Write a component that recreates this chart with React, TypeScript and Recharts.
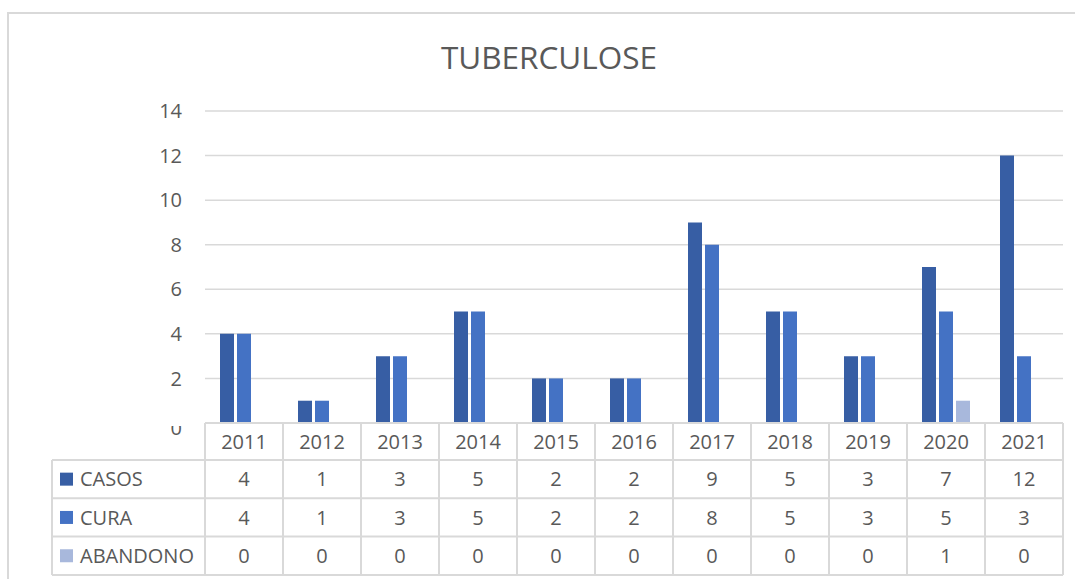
import React from 'react';
import { BarChart, Bar, XAxis, YAxis, CartesianGrid, Customized } from 'recharts';

const TITLE = 'TUBERCULOSE';
const YEARS = ['2011', '2012', '2013', '2014', '2015', '2016', '2017', '2018', '2019', '2020', '2021'];
const CASOS = [4, 1, 3, 5, 2, 2, 9, 5, 3, 7, 12];
const CURA = [4, 1, 3, 5, 2, 2, 8, 5, 3, 5, 3];
const ABANDONO = [0, 0, 0, 0, 0, 0, 0, 0, 0, 1, 0];
const Y_TICKS = [0, 2, 4, 6, 8, 10, 12, 14];
const SERIES_NAMES = ['CASOS', 'CURA', 'ABANDONO'];
const SERIES_COLORS = ['#375EA4', '#4472C4', '#A8B8DC'];
const SERIES_VALUES = [CASOS, CURA, ABANDONO];

const data = YEARS.map((year, i) => ({
  year,
  CASOS: CASOS[i],
  CURA: CURA[i],
  ABANDONO: ABANDONO[i],
}));

const W = 1075;
const H = 579;
const XAXIS_H = 156;
const MARGIN = { top: 111, right: 12, bottom: 0, left: 0 };
const YAXIS_W = 205;
const PLOT_W = W - YAXIS_W - MARGIN.right;
const BW = PLOT_W / YEARS.length;
const HEADER_H = 37;
const ROW_H = 38.3;
const TABLE_LEFT = 52;
const LINE = '#D9D9D9';
const TEXT = '#595959';
const FONT = '"Open Sans", sans-serif';

function YTick(props: any) {
  const { x, y, payload } = props;
  if (payload.value === 0) {
    return (
      <g>
        <defs>
          <clipPath id="zeroClip">
            <rect x={x - 40} y={y + 3} width={60} height={20} />
          </clipPath>
        </defs>
        <text x={x} y={y + 5} dy="0.36em" textAnchor="end" fontSize={20} fill={TEXT} fontFamily={FONT} clipPath="url(#zeroClip)">
          {payload.value}
        </text>
      </g>
    );
  }
  return (
    <text x={x} y={y} dy="0.36em" textAnchor="end" fontSize={20} fill={TEXT} fontFamily={FONT}>
      {payload.value}
    </text>
  );
}

function TableTick(props: any) {
  const { x, y, payload, index } = props;
  const i = typeof index === 'number' ? index : YEARS.indexOf(payload.value);
  const left = x - BW / 2;
  const right = x + BW / 2;
  const bottom = y + HEADER_H + ROW_H * SERIES_NAMES.length;
  const lines: any[] = [];
  lines.push(<line key="vl" x1={left} x2={left} y1={y} y2={bottom} stroke={LINE} strokeWidth={2} />);
  lines.push(<line key="vr" x1={right} x2={right} y1={y} y2={bottom} stroke={LINE} strokeWidth={2} />);
  for (let r = 0; r <= SERIES_NAMES.length; r++) {
    const yy = y + HEADER_H + ROW_H * r;
    lines.push(<line key={'h' + r} x1={left} x2={right} y1={yy} y2={yy} stroke={LINE} strokeWidth={2} />);
  }
  const legend: any[] = [];
  if (i === 0) {
    legend.push(<line key="lv" x1={TABLE_LEFT} x2={TABLE_LEFT} y1={y + HEADER_H} y2={bottom} stroke={LINE} strokeWidth={2} />);
    for (let r = 0; r <= SERIES_NAMES.length; r++) {
      const yy = y + HEADER_H + ROW_H * r;
      legend.push(<line key={'lh' + r} x1={TABLE_LEFT} x2={left} y1={yy} y2={yy} stroke={LINE} strokeWidth={2} />);
    }
    SERIES_NAMES.forEach((name, r) => {
      const cy = y + HEADER_H + ROW_H * r + ROW_H / 2;
      legend.push(<rect key={'ls' + r} x={TABLE_LEFT + 8} y={cy - 6.5} width={13} height={13} fill={SERIES_COLORS[r]} />);
      legend.push(
        <text key={'lt' + r} x={TABLE_LEFT + 28} y={cy} dy="0.36em" fontSize={20} fill={TEXT} fontFamily={FONT}>
          {name}
        </text>
      );
    });
  }
  return (
    <g>
      {lines}
      {legend}
      <text x={x} y={y + HEADER_H / 2} dy="0.36em" textAnchor="middle" fontSize={20} fill={TEXT} fontFamily={FONT}>
        {payload.value}
      </text>
      {SERIES_VALUES.map((vals, r) => (
        <text key={r} x={x} y={y + HEADER_H + ROW_H * r + ROW_H / 2} dy="0.36em" textAnchor="middle" fontSize={20} fill={TEXT} fontFamily={FONT}>
          {vals[i]}
        </text>
      ))}
    </g>
  );
}

function Title() {
  return (
    <text x={549} y={69} textAnchor="middle" fontSize={31.5} fill={TEXT} fontFamily={FONT}>
      {TITLE}
    </text>
  );
}

export default function App() {
  return (
    <div style={{ position: 'absolute', left: 0, top: 0, width: W, height: H, overflow: 'hidden', background: '#fff', fontFamily: FONT }}>
      <div style={{ position: 'absolute', left: 7, top: 12, width: 1120, height: 620, border: `2px solid ${LINE}`, boxSizing: 'border-box' }} />
      <div style={{ position: 'absolute', left: 0, top: 0 }}>
        <BarChart width={W} height={H} data={data} margin={MARGIN} barSize={14} barGap={3}>
          <CartesianGrid vertical={false} stroke={LINE} strokeWidth={1.5} />
          <YAxis
            type="number"
            domain={[0, 14]}
            ticks={Y_TICKS}
            width={YAXIS_W}
            axisLine={false}
            tickLine={false}
            tickSize={0}
            tickMargin={23}
            tick={<YTick />}
            interval={0}
          />
          <XAxis
            dataKey="year"
            type="category"
            interval={0}
            height={XAXIS_H}
            axisLine={{ stroke: LINE, strokeWidth: 2 }}
            tickLine={false}
            tickSize={0}
            tickMargin={0}
            tick={<TableTick />}
          />
          {SERIES_NAMES.map((name, r) => (
            <Bar key={name} dataKey={name} name={name} fill={SERIES_COLORS[r]} isAnimationActive={false} />
          ))}
          <Customized component={Title} />
        </BarChart>
      </div>
    </div>
  );
}
